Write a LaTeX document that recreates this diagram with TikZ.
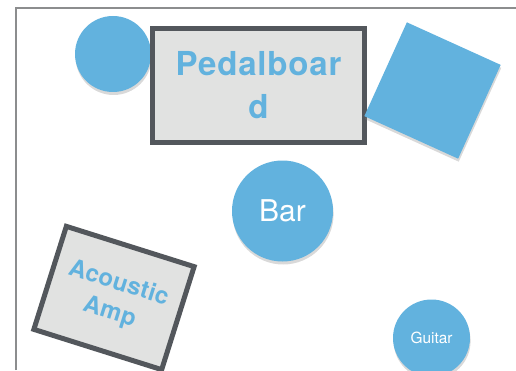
\documentclass[tikz,border=0pt]{standalone}
\usepackage{fontspec}
\setmainfont{TeX Gyre Heros}
\usepackage{xcolor}
\usepackage{tikz}
\usetikzlibrary{shapes,shadows,positioning}

\definecolor{spotblue}{RGB}{98,178,222}
\definecolor{boxfill}{RGB}{225,226,225}
\definecolor{boxline}{RGB}{83,87,92}
\definecolor{framegray}{RGB}{140,141,142}

\begin{document}
\begin{tikzpicture}[x=1pt, y=1pt,
    spot/.style={circle, fill=spotblue, inner sep=0pt, text=white,
        drop shadow={shadow xshift=0.6pt, shadow yshift=-3pt, opacity=0.3}},
    gear/.style={rectangle, draw=boxline, line width=5pt, fill=boxfill,
        align=center, text=spotblue, inner sep=0pt, font=\bfseries},
    tile/.style={rectangle, fill=spotblue, inner sep=0pt,
        drop shadow={shadow xshift=0.6pt, shadow yshift=-3pt, opacity=0.3}}
]
    \useasboundingbox (0,0) rectangle (516,370);
    \draw[framegray, line width=2pt] (16,0) -- (16,362) -- (516,362);

    \node[spot, minimum size=76pt] (stool) at (113,316) {};
    \node[gear, minimum width=212pt, minimum height=114pt,
        font=\bfseries\fontsize{33}{43}\selectfont\addfontfeatures{LetterSpace=2.5}] (pedal) at (258.5,284.5) {Pedalboar\\d};
    \node[tile, minimum size=103pt, rotate=-24.4] (monitor) at (432.5,279.5) {};

    \node[spot, minimum size=101pt, font=\fontsize{30}{34}\selectfont] (bar) at (282.5,159) {Bar};

    \node[gear, minimum width=134pt, minimum height=108pt, rotate=-17.5,
        font=\bfseries\fontsize{24}{30}\selectfont\addfontfeatures{LetterSpace=1.5}] (amp) at (114,72) {Acoustic\\Amp};
    \node[spot, minimum size=77pt, font=\fontsize{15.4}{18}\selectfont] (guitar) at (431.5,32) {Guitar};
\end{tikzpicture}
\end{document}
